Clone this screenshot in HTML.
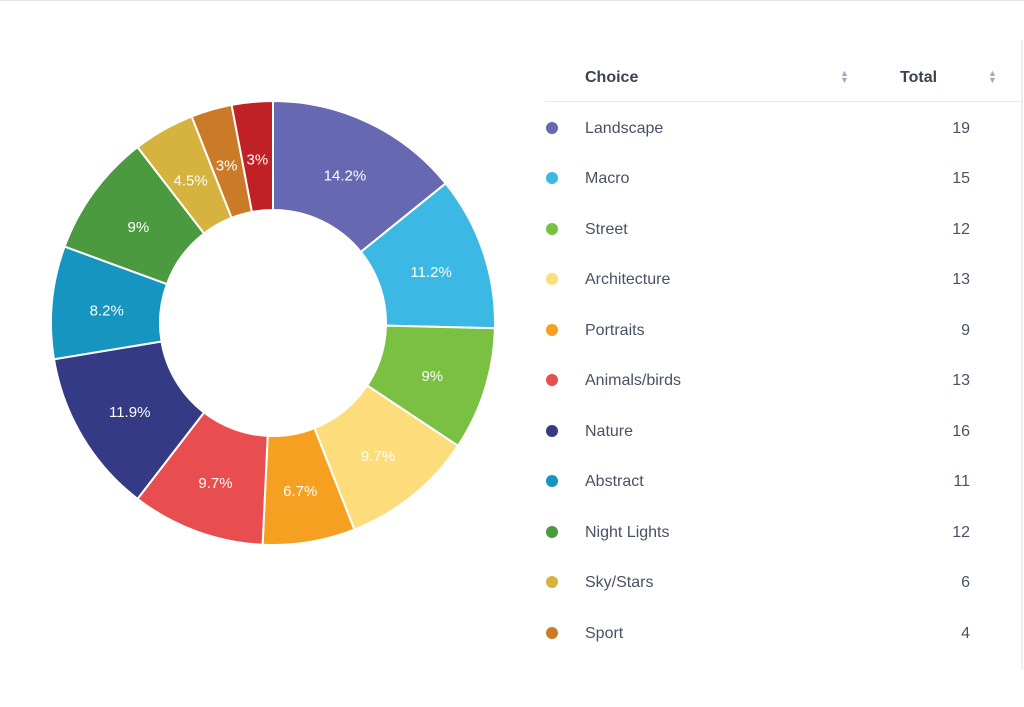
<!DOCTYPE html>
<html><head><style>
body{margin:0;width:1024px;height:707px;background:#fff;font-family:"Liberation Sans",sans-serif;overflow:hidden;position:relative}
.top{position:absolute;left:0;top:0;width:1024px;height:1px;background:#e3e5ea}
.vr{position:absolute;left:1021px;top:40px;width:2px;height:630px;background:#eceef2}
.h{position:absolute;top:69px;font-weight:bold;font-size:16px;color:#3b4252}
.hl{position:absolute;left:545px;top:101px;width:478px;height:1px;background:#e6e8ec}
.row{position:absolute;left:0;font-size:16px;color:#4a5164}
.dot{position:absolute;left:546px;width:12px;height:12px;border-radius:50%}
.arr{position:absolute;font-size:9px;color:#a6a9c4;line-height:7px}
</style></head><body>
<div class="top"></div><div class="vr"></div>
<svg id="s" width="1024" height="707" style="position:absolute;left:0;top:0"></svg>
<div class="h" style="left:585px">Choice</div>
<div class="h" style="left:900px">Total</div>
<div class="arr" style="left:840px;top:70px">▲<br>▼</div>
<div class="arr" style="left:988px;top:70px">▲<br>▼</div>
<div class="hl"></div>
<div id="rows"></div>
<script>
var d=[["Landscape",19,"#6668b1"],["Macro",15,"#3bb8e4"],["Street",12,"#79c043"],["Architecture",13,"#fddd7b"],["Portraits",9,"#f6a021"],["Animals/birds",13,"#e84d4f"],["Nature",16,"#343a84"],["Abstract",11,"#1595c0"],["Night Lights",12,"#4c9a40"],["Sky/Stars",6,"#d6b33e"],["Sport",4,"#cb7b27"],["Other",4,"#bf2127"]];
var tot=0;d.forEach(function(x){tot+=x[1]});
var cx=273,cy=323,R=222,r=113,a=0,s="",t="";
function P(rad,ang){return [cx+rad*Math.sin(ang),cy-rad*Math.cos(ang)]}
d.forEach(function(x){var b=a+x[1]/tot*2*Math.PI;var l=(b-a)>Math.PI?1:0;
var p1=P(R,a),p2=P(R,b),p3=P(r,b),p4=P(r,a);
s+='<path d="M'+p1+' A'+R+','+R+' 0 '+l+' 1 '+p2+' L'+p3+' A'+r+','+r+' 0 '+l+' 0 '+p4+'Z" fill="'+x[2]+'" stroke="#fff" stroke-width="2"/>';
var m=P(167,(a+b)/2),pc=Math.round(x[1]/tot*1000)/10;
t+='<text x="'+m[0]+'" y="'+(m[1]+8)+'" text-anchor="middle" fill="#fff" font-size="15" font-family="Liberation Sans,sans-serif">'+pc+'%</text>';
a=b;});
document.getElementById("s").innerHTML=s+t;
var h="";d.slice(0,11).forEach(function(x,i){var y=128+i*50.45;
h+='<div class="dot" style="top:'+(y-6)+'px;background:'+x[2]+'"></div><div class="row" style="left:585px;top:'+(y-8)+'px">'+x[0]+'</div><div class="row" style="left:900px;width:70px;text-align:right;top:'+(y-8)+'px">'+x[1]+'</div>';});
document.getElementById("rows").innerHTML=h;
</script>
</body></html>
